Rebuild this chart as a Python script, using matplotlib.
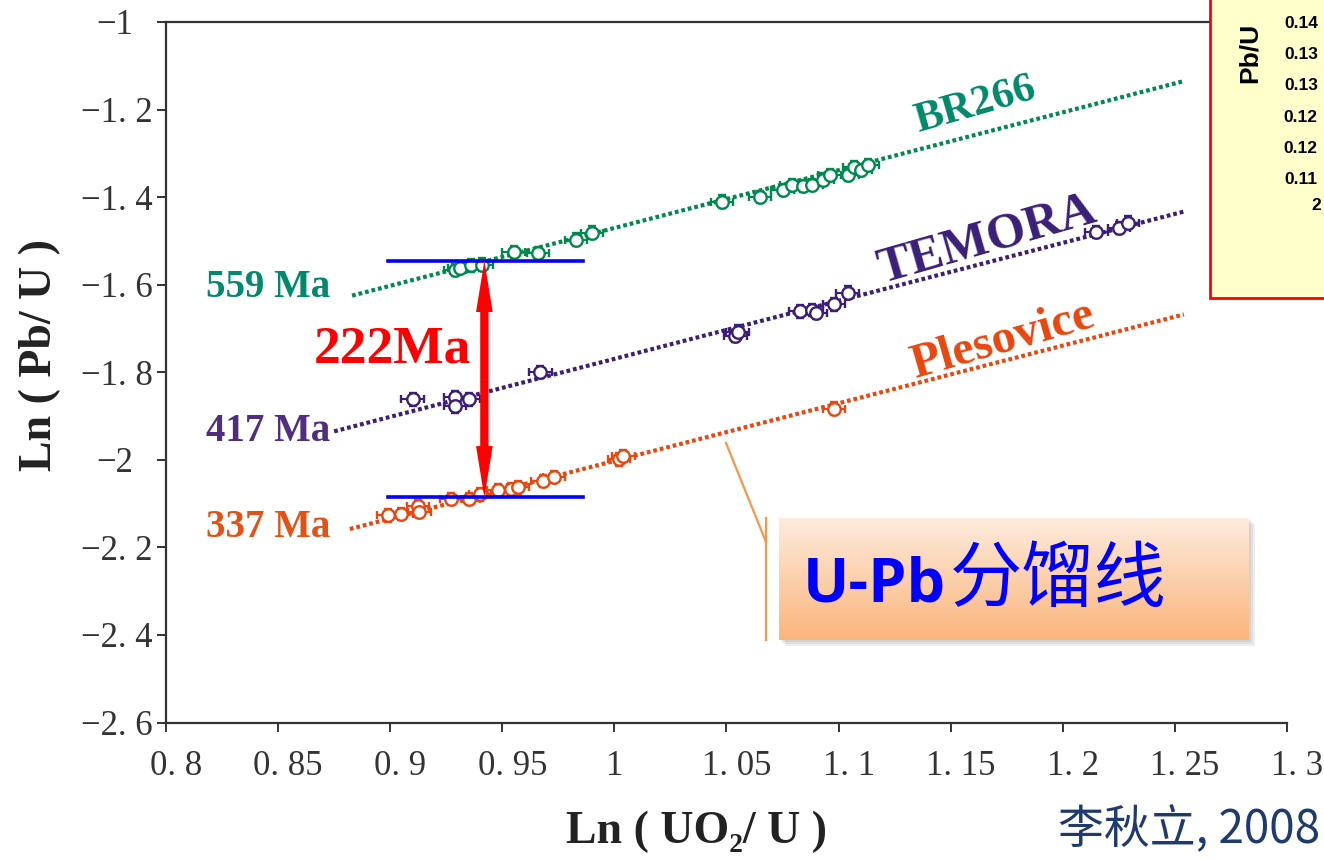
import numpy as np
import matplotlib
matplotlib.use("Agg")
import matplotlib.pyplot as plt
from matplotlib.patches import Rectangle, FancyArrowPatch
from matplotlib.lines import Line2D
from matplotlib.transforms import ScaledTranslation
from matplotlib.colors import to_rgb

# ---------------- data ----------------
br266_x = [0.929, 0.931, 0.936, 0.941, 0.955, 0.966, 0.983, 0.990, 1.048, 1.065,
           1.075, 1.079, 1.084, 1.088, 1.093, 1.096, 1.104, 1.107, 1.110, 1.113]
br266_y = [-1.566, -1.561, -1.556, -1.554, -1.525, -1.527, -1.497, -1.481, -1.410, -1.399,
           -1.383, -1.372, -1.374, -1.372, -1.360, -1.349, -1.349, -1.331, -1.338, -1.326]

temora_x = [0.910, 0.929, 0.929, 0.935, 0.967, 1.054, 1.055, 1.083, 1.088, 1.090,
            1.098, 1.104, 1.215, 1.225, 1.229]
temora_y = [-1.862, -1.857, -1.878, -1.862, -1.800, -1.718, -1.707, -1.661, -1.657, -1.664,
            -1.645, -1.618, -1.479, -1.470, -1.458]

plesovice_x = [0.899, 0.905, 0.9125, 0.913, 0.927, 0.935, 0.940, 0.948, 0.954, 0.957,
               0.968, 0.973, 1.002, 1.004, 1.098]
plesovice_y = [-2.127, -2.124, -2.106, -2.120, -2.090, -2.090, -2.079, -2.070, -2.067, -2.063,
               -2.049, -2.040, -1.999, -1.992, -1.883]

fit_x_br266 = [0.883, 1.254]
fit_y_br266 = [-1.625, -1.135]
fit_x_temora = [0.875, 1.254]
fit_y_temora = [-1.935, -1.433]
fit_x_plesovice = [0.882, 1.254]
fit_y_plesovice = [-2.158, -1.668]

ref_x = [0.899, 0.986]
ref_y_top = -1.545
ref_y_bot = -2.086
arrow_x = 0.942

age_labels = ["559 Ma", "417 Ma", "337 Ma"]
name_labels = ["BR266", "TEMORA", "Plesovice"]
gap_label = "222Ma"

x_ticks = [0.8, 0.85, 0.9, 0.95, 1.0, 1.05, 1.1, 1.15, 1.2, 1.25, 1.3]
x_ticklabels = ["0. 8", "0. 85", "0. 9", "0. 95", "1", "1. 05", "1. 1", "1. 15", "1. 2", "1. 25", "1. 3"]
y_ticks = [-1.0, -1.2, -1.4, -1.6, -1.8, -2.0, -2.2, -2.4, -2.6]
y_ticklabels = ["\u22121", "\u22121. 2", "\u22121. 4", "\u22121. 6", "\u22121. 8", "\u22122",
                "\u22122. 2", "\u22122. 4", "\u22122. 6"]

inset_ticks = [0.136, 0.131, 0.126, 0.121, 0.116, 0.111]
inset_ticklabels = ["0.14", "0.13", "0.13", "0.12", "0.12", "0.11"]

callout_text_latin = "U-Pb"
callout_text_cjk = "分馏线"
citation = "李秋立, 2008"

# ---------------- style ----------------
W, H = 1324, 861
def fx(px):
    return px / W
def fy(py):
    return 1 - py / H

c_green = "#00894F"
c_green_t = "#00896B"
c_purple = "#3A1F78"
c_purple_t = "#4F2D7F"
c_orange = "#E8470F"
c_orange_t = "#E35214"
axis_c = "#333333"

fig = plt.figure(figsize=(W / 100, H / 100), dpi=100)
ax = fig.add_axes([fx(166), fy(722.5), fx(1287) - fx(166), fy(22) - fy(722.5)])
ax.set_xlim(0.8, 1.3)
ax.set_ylim(-2.6, -1.0)

for s in ["left", "bottom", "top"]:
    ax.spines[s].set_color(axis_c)
    ax.spines[s].set_linewidth(1.6)
ax.spines["right"].set_visible(False)

ax.set_xticks(x_ticks)
ax.set_xticklabels(x_ticklabels)
ax.set_yticks(y_ticks)
ax.set_yticklabels(y_ticklabels)
ax.tick_params(axis="both", direction="out", length=6.5, width=1.4, color=axis_c,
               labelcolor="#333333", labelsize=25)
ax.tick_params(axis="x", pad=13)
ax.tick_params(axis="y", pad=3)
for lab in ax.get_xticklabels() + ax.get_yticklabels():
    lab.set_family("Liberation Serif")
for lab in ax.get_xticklabels():
    if "." in lab.get_text():
        lab.set_transform(lab.get_transform() + ScaledTranslation(10 / 100, 0, fig.dpi_scale_trans))
for lab in ax.get_yticklabels():
    if "." not in lab.get_text():
        lab.set_transform(lab.get_transform() + ScaledTranslation(-20 / 100, 0, fig.dpi_scale_trans))

# fit lines
line_kw = dict(linestyle=(0, (0.9, 0.7)), linewidth=3.0, zorder=2)
ax.plot(fit_x_br266, fit_y_br266, color=c_green, **line_kw)
ax.plot(fit_x_temora, fit_y_temora, color=c_purple, **line_kw)
ax.plot(fit_x_plesovice, fit_y_plesovice, color=c_orange, **line_kw)

# data points
pt_kw = dict(fmt="o", markersize=9, mfc="white", mew=1.7, xerr=0.005, yerr=0.014,
             capsize=2.8, elinewidth=1.5, capthick=1.5, zorder=3)
ax.errorbar(br266_x, br266_y, color=c_green, **pt_kw)
ax.errorbar(temora_x, temora_y, color=c_purple, **pt_kw)
ax.errorbar(plesovice_x, plesovice_y, color=c_orange, **pt_kw)

# reference lines and double arrow
ax.plot(ref_x, [ref_y_top, ref_y_top], color="#0000FF", lw=2.6, zorder=4)
ax.plot(ref_x, [ref_y_bot, ref_y_bot], color="#0000FF", lw=2.6, zorder=4)
mid = (ref_y_top + ref_y_bot) / 2
for end in (ref_y_top, ref_y_bot):
    ax.add_patch(FancyArrowPatch((arrow_x, mid), (arrow_x, end),
                                 arrowstyle="simple,head_length=37,head_width=12,tail_width=6",
                                 mutation_scale=1, color="#FF0000", lw=0,
                                 shrinkA=0, shrinkB=0, zorder=5))

serif_b = dict(family="Liberation Serif", weight="bold")
ax.text(0.901, -1.748, gap_label, color="#FF0000", fontsize=38.5, ha="center", va="center", **serif_b)

# age labels
ax.text(0.8455, -1.607, age_labels[0], color=c_green_t, fontsize=28, ha="center", va="center", **serif_b)
ax.text(0.8455, -1.935, age_labels[1], color=c_purple_t, fontsize=28, ha="center", va="center", **serif_b)
ax.text(0.8455, -2.154, age_labels[2], color=c_orange_t, fontsize=28, ha="center", va="center", **serif_b)

# standard names
ax.text(1.161, -1.191, name_labels[0], color=c_green_t, fontsize=31, rotation=16,
        ha="center", va="center", rotation_mode="anchor", **serif_b)
ax.text(1.166, -1.497, name_labels[1], color=c_purple, fontsize=36, rotation=16,
        ha="center", va="center", rotation_mode="anchor", **serif_b)
ax.text(1.173, -1.727, name_labels[2], color=c_orange, fontsize=35, rotation=16,
        ha="center", va="center", rotation_mode="anchor", **serif_b)

# axis titles
fig.text(fx(40), fy(355), "Ln ( Pb/ U )", rotation=90, ha="center", va="center",
         fontsize=33, color="#222222", family=["Liberation Serif", "DejaVu Serif"], weight="bold")
fig.text(fx(697), fy(832), "Ln ( UO\u2082/ U )", ha="center", va="center",
         fontsize=33, color="#222222", family=["Liberation Serif", "DejaVu Serif"], weight="bold")

# ---- inset fragment (top right) ----
box = Rectangle((fx(1210), fy(298)), fx(1340) - fx(1210), fy(-5) - fy(298),
                transform=fig.transFigure, facecolor="#FFFFCC", edgecolor="#FF0000",
                lw=2, zorder=10)
fig.add_artist(box)
iax = fig.add_axes([fx(1322), fy(200), 0.05, fy(0) - fy(200)], zorder=11)
iax.patch.set_alpha(0)
for s in iax.spines.values():
    s.set_visible(False)
iax.set_ylim(0.10747, 0.13953)
iax.set_yticks(inset_ticks)
iax.set_yticklabels(inset_ticklabels)
iax.set_xticks([])
iax.tick_params(axis="y", length=0, pad=3, labelsize=12.5)
for lab in iax.get_yticklabels():
    lab.set_family("Liberation Sans")
    lab.set_weight("bold")
fig.text(fx(1250), fy(53), "Pb/U", rotation=90, ha="center", va="center", fontsize=19,
         family="Liberation Sans", weight="bold", zorder=12)
fig.text(fx(1311), fy(205), "2", ha="left", va="center", fontsize=12.5,
         family="Liberation Sans", weight="bold", zorder=12)

# ---- callout ----
orange_c = "#F79646"
fig.add_artist(Line2D([fx(726), fx(766)], [fy(443), fy(542)], transform=fig.transFigure,
                      color=orange_c, lw=1.6, zorder=12))
fig.add_artist(Line2D([fx(766), fx(766)], [fy(518), fy(640)], transform=fig.transFigure,
                      color=orange_c, lw=1.6, zorder=12))
for k, a in enumerate([0.12, 0.12, 0.12]):
    off = 2 + 2 * k
    shadow = Rectangle((fx(779 + off), fy(640 + off)), fx(1249) - fx(779), fy(518) - fy(640),
                       transform=fig.transFigure, facecolor="#777777", alpha=a, lw=0, zorder=12)
    fig.add_artist(shadow)
cax = fig.add_axes([fx(779), fy(640), fx(1249) - fx(779), fy(518) - fy(640)], zorder=13)
top_rgb = np.array(to_rgb("#FDEBDC"))
bot_rgb = np.array(to_rgb("#FBB57C"))
t = np.linspace(0, 1, 100)[:, None]
grad = (top_rgb[None, :] * (1 - t) + bot_rgb[None, :] * t)[:, None, :]
cax.imshow(grad, aspect="auto", extent=[0, 1, 0, 1], origin="upper")
cax.set_axis_off()
fig.text(fx(803), fy(601), callout_text_latin, ha="left", va="baseline", fontsize=44,
         family="Open Sans", weight="bold", color="#0000FF", zorder=14)
fig.text(fx(950), fy(601), callout_text_cjk, ha="left", va="baseline", fontsize=52,
         family="Noto Sans CJK SC", color="#0000FF", zorder=14)

# citation
fig.text(fx(1320), fy(830), citation, ha="right", va="center", fontsize=33,
         family=["Noto Sans CJK SC", "DejaVu Sans"], color="#1F3A6E")

fig.savefig("out.png", dpi=100)
